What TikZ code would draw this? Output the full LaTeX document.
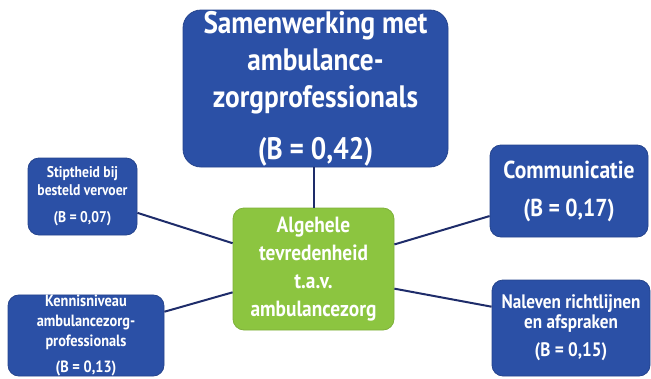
\documentclass[tikz,border=0pt]{standalone}
\usepackage{fontspec}
\setmainfont[FakeStretch=0.88]{PT Sans}
\usetikzlibrary{calc}

\definecolor{boxblue}{HTML}{2B50A6}
\definecolor{boxgreen}{HTML}{8CC540}
\definecolor{linknavy}{HTML}{1E2C6A}

\tikzset{
	bluebox/.style={fill=boxblue, draw=boxblue!85!black, line width=0.8pt, rounded corners=11pt,
		text=white, align=center, inner sep=0pt},
	greenbox/.style={fill=boxgreen, draw=boxgreen!90!black, line width=0.8pt, rounded corners=11pt,
		text=white, align=center, inner sep=0pt},
	link/.style={draw=linknavy, line width=2pt},
}

\begin{document}
\begin{tikzpicture}[x=1pt, y=-1pt]
			%%%%% START %%%%%
			\clip (0, 0) rectangle (651, 378);
			\useasboundingbox (0, 0) rectangle (651, 378);
			
			% central box
			\node[greenbox, minimum width=161pt, minimum height=122pt,
				font=\fontsize{22}{28}\selectfont\bfseries] (tevreden) at (313.5, 269)
				{Algehele\\tevredenheid\\t.a.v.\\ambulancezorg};
			
			% factors round it
			\node[bluebox, rounded corners=18pt, minimum width=265pt, minimum height=157pt,
				font=\fontsize{31}{37}\selectfont\bfseries] (samenwerking) at (315.5, 88.5)
				{Samenwerking met\\ambulance-\\zorgprofessionals\\[15pt](B = 0,42)};
			
			\node[bluebox, minimum width=109pt, minimum height=77pt,
				font=\fontsize{15.5}{18}\selectfont\bfseries] (stiptheid) at (82.5, 196.5)
				{Stiptheid bij\\besteld vervoer\\[9pt](B = 0,07)};
			
			\node[bluebox, minimum width=156pt, minimum height=81pt,
				font=\fontsize{16.3}{20}\selectfont\bfseries] (kennis) at (86, 335.5)
				{Kennisniveau\\ambulancezorg-\\professionals\\[6pt](B = 0,13)};
			
			\node[bluebox, minimum width=158pt, minimum height=92pt,
				font=\fontsize{24.5}{38}\selectfont\bfseries] (communicatie) at (569, 191)
				{Communicatie\\(B = 0,17)};
			
			\node[bluebox, minimum width=158pt, minimum height=96pt,
				font=\fontsize{19.5}{20}\selectfont\bfseries] (naleven) at (571, 328)
				{Naleven richtlijnen\\en afspraken\\[8pt](B = 0,15)};
			
			% connectors
			\draw[link] (tevreden.north) -- (tevreden.north |- samenwerking.south);
			\draw[link] ($(stiptheid.north east)!0.71!(stiptheid.south east)$)
				-- ($(tevreden.north west)!0.29!(tevreden.south west)$);
			\draw[link] ($(kennis.north east)!0.21!(kennis.south east)$)
				-- ($(tevreden.north west)!0.69!(tevreden.south west)$);
			\draw[link] ($(tevreden.north east)!0.30!(tevreden.south east)$)
				-- ($(communicatie.north west)!0.77!(communicatie.south west)$);
			\draw[link] ($(tevreden.north east)!0.66!(tevreden.south east)$)
				-- ($(naleven.north west)!0.28!(naleven.south west)$);
			%%%%% END %%%%%
\end{tikzpicture}
\end{document}
